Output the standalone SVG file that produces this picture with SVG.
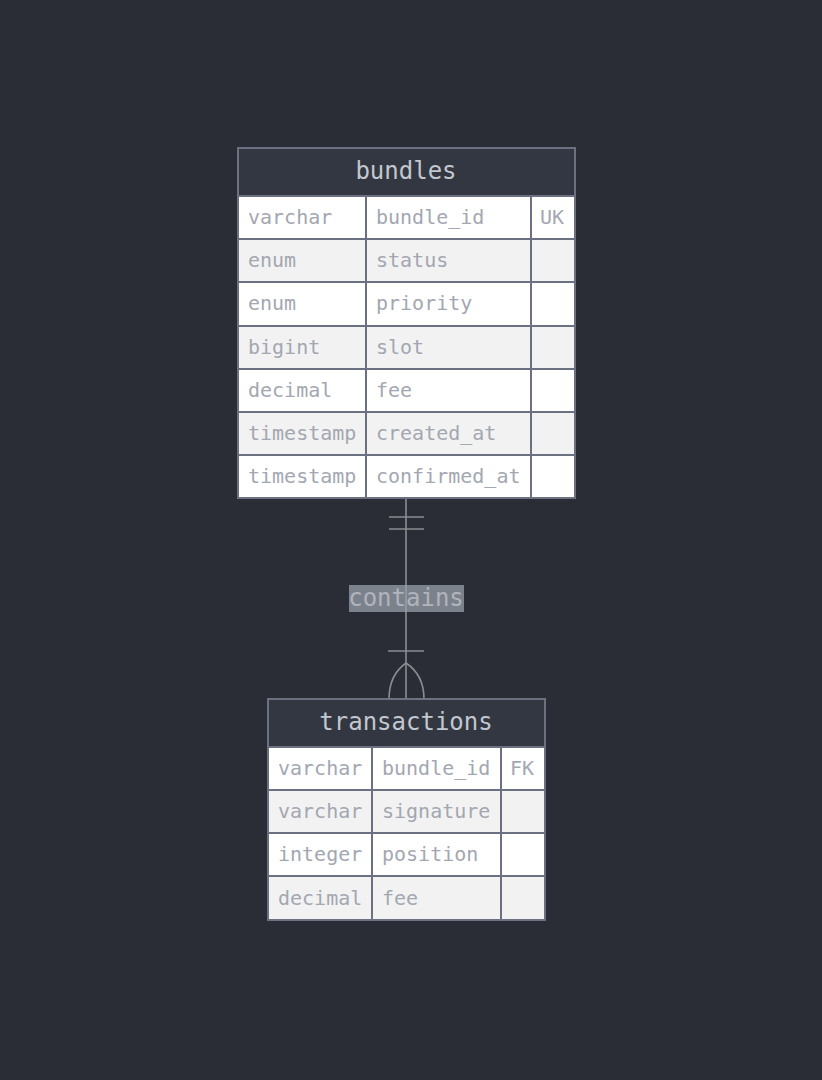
<svg xmlns="http://www.w3.org/2000/svg" width="822" height="1080" viewBox="0 0 822 1080">
<style>
.bg{fill:#2a2d35}
.hdr{fill:#333741;stroke:#6b7180;stroke-width:2}
.odd{fill:#ffffff;stroke:#6b7180;stroke-width:2}
.even{fill:#f2f2f2;stroke:#6b7180;stroke-width:2}
.t{font-family:"DejaVu Sans Mono",monospace;font-size:20px;fill:#a3a7b1}
.h{font-family:"DejaVu Sans Mono",monospace;font-size:24px;fill:#c3c7cf;text-anchor:middle}
.rel{stroke:#8a8c91;stroke-width:1.6;fill:none}
.lbl{font-family:"DejaVu Sans Mono",monospace;font-size:24px;fill:#b0b4bc;text-anchor:middle}
</style>
<rect class="bg" x="0" y="0" width="822" height="1080"/>
<g id="connectors">
<line class="rel" x1="406" y1="498" x2="406" y2="699"/>
<line class="rel" x1="389" y1="517" x2="424" y2="517"/>
<line class="rel" x1="389" y1="529" x2="424" y2="529"/>
<line class="rel" x1="388" y1="651" x2="424" y2="651"/>
<path class="rel" d="M389,699 Q389,675 406,663 Q424,675 424,699"/>
<rect x="349" y="585" width="115" height="27" fill="#9ca3af" fill-opacity="0.72"/>
<text class="lbl" x="406" y="606">contains</text>
</g>
<g id="bundles">
<rect class="hdr" x="238" y="148" width="337" height="48"/>
<text class="h" x="406" y="179">bundles</text>
<rect class="odd" x="238" y="196" width="128" height="43"/><rect class="odd" x="366" y="196" width="165" height="43"/><rect class="odd" x="531" y="196" width="44" height="43"/>
<rect class="even" x="238" y="239" width="128" height="43"/><rect class="even" x="366" y="239" width="165" height="43"/><rect class="even" x="531" y="239" width="44" height="43"/>
<rect class="odd" x="238" y="282" width="128" height="44"/><rect class="odd" x="366" y="282" width="165" height="44"/><rect class="odd" x="531" y="282" width="44" height="44"/>
<rect class="even" x="238" y="326" width="128" height="43"/><rect class="even" x="366" y="326" width="165" height="43"/><rect class="even" x="531" y="326" width="44" height="43"/>
<rect class="odd" x="238" y="369" width="128" height="43"/><rect class="odd" x="366" y="369" width="165" height="43"/><rect class="odd" x="531" y="369" width="44" height="43"/>
<rect class="even" x="238" y="412" width="128" height="43"/><rect class="even" x="366" y="412" width="165" height="43"/><rect class="even" x="531" y="412" width="44" height="43"/>
<rect class="odd" x="238" y="455" width="128" height="43"/><rect class="odd" x="366" y="455" width="165" height="43"/><rect class="odd" x="531" y="455" width="44" height="43"/>
<text class="t" x="248" y="224">varchar</text><text class="t" x="376" y="224">bundle_id</text><text class="t" x="540" y="224">UK</text>
<text class="t" x="248" y="267">enum</text><text class="t" x="376" y="267">status</text>
<text class="t" x="248" y="310">enum</text><text class="t" x="376" y="310">priority</text>
<text class="t" x="248" y="354">bigint</text><text class="t" x="376" y="354">slot</text>
<text class="t" x="248" y="397">decimal</text><text class="t" x="376" y="397">fee</text>
<text class="t" x="248" y="440">timestamp</text><text class="t" x="376" y="440">created_at</text>
<text class="t" x="248" y="483">timestamp</text><text class="t" x="376" y="483">confirmed_at</text>
</g>
<g id="transactions">
<rect class="hdr" x="268" y="699" width="277" height="48"/>
<text class="h" x="406" y="730">transactions</text>
<rect class="odd" x="268" y="747" width="104" height="43"/><rect class="odd" x="372" y="747" width="129" height="43"/><rect class="odd" x="501" y="747" width="44" height="43"/>
<rect class="even" x="268" y="790" width="104" height="43"/><rect class="even" x="372" y="790" width="129" height="43"/><rect class="even" x="501" y="790" width="44" height="43"/>
<rect class="odd" x="268" y="833" width="104" height="43"/><rect class="odd" x="372" y="833" width="129" height="43"/><rect class="odd" x="501" y="833" width="44" height="43"/>
<rect class="even" x="268" y="876" width="104" height="44"/><rect class="even" x="372" y="876" width="129" height="44"/><rect class="even" x="501" y="876" width="44" height="44"/>
<text class="t" x="278" y="775">varchar</text><text class="t" x="382" y="775">bundle_id</text><text class="t" x="510" y="775">FK</text>
<text class="t" x="278" y="818">varchar</text><text class="t" x="382" y="818">signature</text>
<text class="t" x="278" y="861">integer</text><text class="t" x="382" y="861">position</text>
<text class="t" x="278" y="905">decimal</text><text class="t" x="382" y="905">fee</text>
</g>
</svg>
